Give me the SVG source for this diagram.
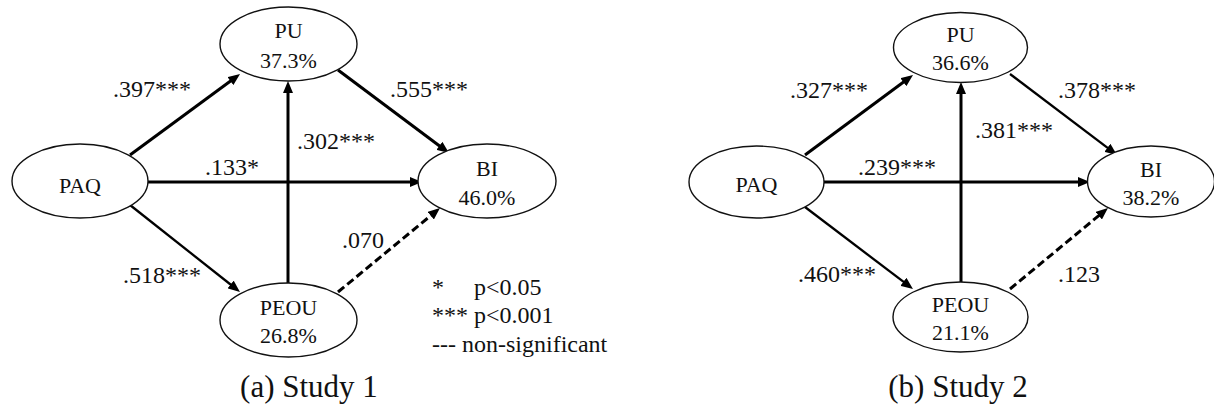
<svg xmlns="http://www.w3.org/2000/svg" width="1214" height="408" viewBox="0 0 1214 408">
<style>
text{font-family:"Liberation Serif","Times New Roman",serif;fill:#111}
.node ellipse{fill:#fff;stroke:#111;stroke-width:1.4}
.nt{font-size:22px;text-anchor:middle}
.el{font-size:24px}
.lg{font-size:24px}
.cap{font-size:31px;text-anchor:middle}
.e{stroke:#000;fill:none;marker-end:url(#ah)}
.thick{stroke-width:3}
.thin{stroke-width:2.3}
.dash{stroke-width:3;stroke-dasharray:8 4}
</style>
<defs>
<marker id="ah" markerUnits="userSpaceOnUse" markerWidth="12" markerHeight="10" refX="4" refY="5" orient="auto">
<path d="M0,0 L12,5 L0,10 z" fill="#000"/>
</marker>
</defs>

<g id="connectors">
<!-- Study 1 -->
<line class="e thick" x1="130" y1="155" x2="233.6" y2="78.7"/>
<line class="e thick" x1="338" y1="70" x2="442.6" y2="148.2"/>
<line class="e thick" x1="148" y1="182" x2="414" y2="182"/>
<line class="e thick" x1="288" y1="283" x2="288" y2="89"/>
<line class="e thin" x1="130" y1="205" x2="233.7" y2="287"/>
<line class="e dash" x1="338" y1="292" x2="433.8" y2="213.1"/>
<!-- Study 2 -->
<line class="e thick" x1="805" y1="155" x2="906.6" y2="79.8"/>
<line class="e thin" x1="1010" y1="74" x2="1110.6" y2="150.2"/>
<line class="e thick" x1="824" y1="182" x2="1082" y2="182"/>
<line class="e thick" x1="961" y1="282" x2="961" y2="90"/>
<line class="e thin" x1="805" y1="207" x2="906.6" y2="284.2"/>
<line class="e dash" x1="1010" y1="289" x2="1101.8" y2="213.1"/>
</g>

<g id="s1-PU" class="node"><ellipse cx="288.5" cy="44" rx="68.5" ry="37"/><text class="nt" x="288.5" y="38">PU</text><text class="nt" x="288.5" y="68">37.3%</text></g>
<g id="s1-PAQ" class="node"><ellipse cx="80" cy="181" rx="68" ry="37"/><text class="nt" x="80" y="193">PAQ</text></g>
<g id="s1-BI" class="node"><ellipse cx="487" cy="181" rx="69" ry="37"/><text class="nt" x="487" y="176">BI</text><text class="nt" x="487" y="205">46.0%</text></g>
<g id="s1-PEOU" class="node"><ellipse cx="288.5" cy="320" rx="68.5" ry="37"/><text class="nt" x="288.5" y="315">PEOU</text><text class="nt" x="288.5" y="343">26.8%</text></g>

<g id="s2-PU" class="node"><ellipse cx="960.5" cy="47.5" rx="67" ry="35"/><text class="nt" x="960.5" y="42">PU</text><text class="nt" x="960.5" y="70">36.6%</text></g>
<g id="s2-PAQ" class="node"><ellipse cx="756.5" cy="182" rx="67.5" ry="36"/><text class="nt" x="756.5" y="192">PAQ</text></g>
<g id="s2-BI" class="node"><ellipse cx="1151" cy="181.5" rx="63.5" ry="35.5"/><text class="nt" x="1151" y="177">BI</text><text class="nt" x="1151" y="205">38.2%</text></g>
<g id="s2-PEOU" class="node"><ellipse cx="960.5" cy="317" rx="67.5" ry="35"/><text class="nt" x="960.5" y="312">PEOU</text><text class="nt" x="960.5" y="340">21.1%</text></g>

<g id="edge-labels">
<text class="el" x="113" y="97">.397***</text>
<text class="el" x="390" y="97">.555***</text>
<text class="el" x="297" y="149">.302***</text>
<text class="el" x="205" y="175">.133*</text>
<text class="el" x="342" y="248">.070</text>
<text class="el" x="123" y="283">.518***</text>

<text class="el" x="790" y="98">.327***</text>
<text class="el" x="1058" y="98">.378***</text>
<text class="el" x="975" y="138">.381***</text>
<text class="el" x="858" y="175">.239***</text>
<text class="el" x="798" y="282">.460***</text>
<text class="el" x="1058" y="282">.123</text>
</g>

<g id="legend">
<text class="lg" x="432" y="295">*</text><text class="lg" x="474" y="295">p&lt;0.05</text>
<text class="lg" x="432" y="323">*** p&lt;0.001</text>
<text class="lg" x="432" y="352">--- non-significant</text>
</g>

<text class="cap" x="309" y="397">(a) Study 1</text>
<text class="cap" x="958" y="397">(b) Study 2</text>
</svg>
